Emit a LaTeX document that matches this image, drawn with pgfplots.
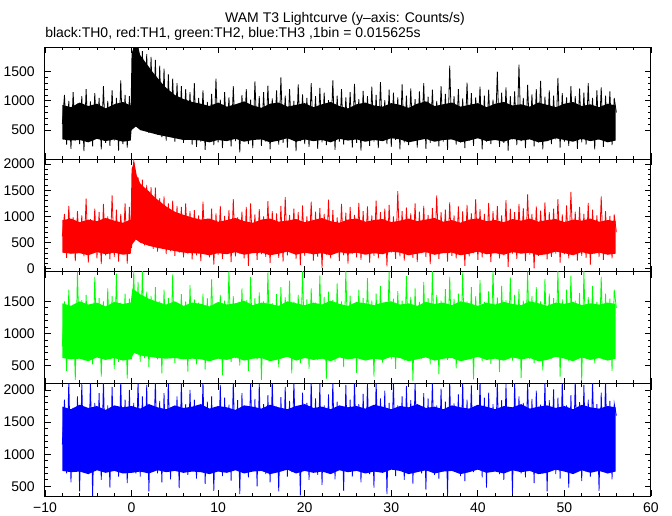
\documentclass[border=0pt]{standalone}
\usepackage{fontspec}
\setmainfont{Liberation Sans}
\usepackage{pgfplots}
\usepackage{pgfplotstable}
\pgfplotsset{compat=1.18}

\definecolor{th0}{RGB}{0,0,0}
\definecolor{th1}{RGB}{255,0,0}
\definecolor{th2}{RGB}{0,255,0}
\definecolor{th3}{RGB}{0,0,255}

% t = time (s), a..d = counts/s for TH0..TH3 (low/high excursions)
\pgfplotstableread{
t a b c d
-8 600 620 800 1150
-7.75 1100 1050 1500 1850
-7.5 250 210 420 700
-7.25 1000 1200 1680 2150
-7 180 280 610 560
-6.75 1150 980 1450 1720
-6.5 320 150 280 810
-6.25 950 1100 1960 1900
-6 260 300 650 420
-5.75 1080 1020 1520 2110
-5.5 140 240 580 760
-5.25 1200 1340 1600 1680
-5 300 120 700 690
-4.75 990 950 1420 2150
-4.5 220 310 520 350
-4.25 1130 1150 1880 1800
-4 350 200 640 820
-3.75 1050 1080 1550 1950
-3.5 170 90 330 600
-3.25 1250 1240 1500 2150
-3 280 260 680 740
-2.75 1000 1000 1700 1760
-2.5 230 180 600 480
-2.25 1180 1400 1580 2050
-2 320 230 450 790
-1.75 1050 1130 1930 1700
-1.5 150 140 560 650
-1.25 1350 1050 1480 2150
-1 260 290 710 720
-0.75 1100 1250 1620 1850
-0.5 200 100 300 550
-0.25 1080 1180 1540 2000
0 500 400 600 760
0.25 1950 2100 1980 1800
0.5 820 700 700 700
0.75 1950 1750 1800 2150
1 500 600 560 650
1.25 1850 1700 1990 1900
1.5 600 450 620 780
1.75 1800 1600 1650 2080
2 450 520 480 420
2.25 1750 1560 1580 1760
2.5 550 380 650 810
2.75 1700 1550 1720 2150
3 420 330 600 700
3.25 1600 1350 1500 1830
3.5 380 400 380 560
3.75 1550 1380 1680 1950
4 320 280 690 790
4.25 1450 1250 1550 2150
4.5 400 340 620 610
4.75 1380 1300 1920 1700
5 300 250 540 830
5.25 1300 1200 1460 1900
5.5 350 310 700 470
5.75 1250 1180 1610 2120
6 280 220 620 750
6.25 1200 1250 1500 1780
6.5 330 290 410 680
6.75 1150 1100 1750 2000
7 250 180 660 800
7.25 1300 1120 1530 1850
7.5 210 260 520 620
7.75 1050 1020 1480 1760
8 300 150 610 780
8.25 1180 1280 1620 2150
8.5 160 310 440 540
8.75 980 960 1550 1820
9 340 220 680 700
9.25 1120 1150 1840 1900
9.5 240 80 590 430
9.75 1380 1060 1430 1700
10 290 270 650 820
10.25 1020 1200 1600 2080
10.5 190 190 350 660
10.75 1150 1010 1510 1880
11 360 300 700 750
11.25 1060 1120 1990 1770
11.5 220 130 560 590
11.75 1250 1330 1580 2150
12 310 240 620 800
12.25 940 980 1460 1840
12.5 120 290 500 380
12.75 1100 1090 1700 1950
13 330 200 660 720
13.25 1200 1180 1520 1690
13.5 260 60 420 640
13.75 1020 1250 1880 2150
14 190 320 690 810
14.25 1330 1040 1550 1860
14.5 350 170 600 500
14.75 1080 1140 1640 2100
15 230 280 280 770
15.25 1150 1000 1500 1780
15.5 300 230 650 690
15.75 1260 1290 1950 1920
16 170 110 570 560
16.25 1040 1100 1470 2150
16.5 320 300 680 830
16.75 1180 1060 1610 1740
17 250 210 480 420
17.25 1400 1200 1720 1890
17.5 280 140 630 760
17.75 1090 1370 1560 2050
18 200 260 700 650
18.25 1200 1030 1820 1830
18.5 360 320 380 720
18.75 1000 1150 1490 2150
19 140 190 610 800
19.25 1280 1080 1600 1720
19.5 310 70 540 360
19.75 1110 1210 1990 1960
20 260 250 660 780
20.25 1050 1000 1530 1800
20.5 210 300 450 600
20.75 1300 1280 1700 2150
21 340 160 690 740
21.25 1080 1090 1480 1870
21.5 180 230 590 680
21.75 1220 1160 1900 2100
22 290 20 620 520
22.25 1140 1050 1570 1760
22.5 240 270 300 810
22.75 1010 1320 1650 1930
23 330 200 670 700
23.25 1350 1120 1520 2150
23.5 160 310 560 610
23.75 1090 980 1780 1820
24 300 150 640 790
24.25 1200 1240 1500 1690
24.5 250 260 480 430
24.75 1060 1070 1970 2080
25 370 100 700 760
25.25 1150 1180 1590 1850
25.5 200 290 610 650
25.75 1290 1030 1460 2150
26 280 220 390 820
26.25 1030 1260 1680 1780
26.5 150 170 660 560
26.75 1170 1100 1550 1940
27 320 300 590 720
27.25 1080 1190 1860 2110
27.5 230 120 680 690
27.75 1240 1020 1510 1720
28 300 250 330 480
28.25 1100 1300 1620 2150
28.5 190 200 630 800
28.75 1320 1080 1740 1870
29 350 280 550 740
29.25 1010 1150 1480 1990
29.5 260 50 700 380
29.75 1190 1220 1960 1800
30 210 310 600 780
30.25 1140 1000 1540 2150
30.5 330 190 450 660
30.75 1060 1480 1660 1760
31 170 240 680 820
31.25 1280 1100 1510 1900
31.5 290 160 580 600
31.75 1090 1170 1890 2060
32 240 290 640 720
32.25 1210 1060 1570 1840
32.5 310 210 260 540
32.75 1030 1250 1700 2150
33 200 130 660 790
33.25 1160 1090 1490 1730
33.5 350 300 610 700
33.75 1300 1200 1800 1950
34 180 230 690 450
34.25 1070 1030 1550 1870
34.5 280 90 520 800
34.75 1190 1160 1970 2150
35 330 270 640 680
35.25 1000 1400 1600 1760
35.5 220 190 370 620
35.75 1250 1080 1510 2020
36 300 310 670 770
36.25 1120 1130 1690 1820
36.5 160 140 590 350
36.75 1600 1270 1880 2150
37 340 250 700 740
37.25 1080 1020 1540 1790
37.5 250 200 460 810
37.75 1200 1190 1620 1930
38 290 290 650 660
38.25 1040 1100 1950 2150
38.5 190 60 610 580
38.75 1310 1220 1500 1850
39 320 240 680 780
39.25 1130 1060 1720 2070
39.5 230 300 290 720
39.75 1060 1330 1580 1750
40 360 170 640 800
40.25 1240 1140 1830 2150
40.5 170 220 570 640
40.75 1090 1050 1490 1880
41 300 280 690 480
41.25 1190 1260 1660 1960
41.5 260 130 530 750
41.75 1020 1100 1990 1780
42 330 310 660 820
42.25 1500 1200 1560 2150
42.5 210 200 400 690
42.75 1140 1020 1740 1840
43 280 260 620 600
43.25 1230 1310 1520 2090
43.5 150 40 700 770
43.75 1080 1150 1870 1730
44 340 290 580 380
44.25 1160 1080 1600 2150
44.5 240 190 650 810
44.75 1620 1240 1690 1900
45 310 300 310 700
45.25 1050 1160 1510 1800
45.5 190 150 680 640
45.75 1270 1420 1960 2150
46 350 270 600 760
46.25 1110 1050 1580 1860
46.5 220 10 540 550
46.75 1200 1190 1720 1990
47 290 250 690 790
47.25 1340 1110 1500 1770
47.5 170 310 430 700
47.75 1070 1270 1850 2150
48 320 180 650 420
48.25 1180 1080 1620 1840
48.5 260 230 610 810
48.75 1090 1150 1550 2010
49 340 290 700 690
49.25 1390 1330 1990 1880
49.5 200 120 330 620
49.75 1130 1040 1530 2150
50 300 280 660 780
50.25 1060 1210 1680 1760
50.5 230 200 570 480
50.75 1250 1470 1900 1920
51 360 300 640 740
51.25 1080 1090 1510 2150
51.5 180 160 690 800
51.75 1210 1180 1630 1810
52 290 250 260 580
52.25 1140 1050 1970 2080
52.5 250 210 610 730
52.75 1300 1260 1570 1850
53 320 80 680 650
53.25 1050 1130 1740 2150
53.5 170 290 540 810
53.75 1180 1020 1490 1780
54 330 230 650 430
54.25 1230 1380 1880 1960
54.5 210 170 600 760
54.75 1090 1100 1620 2150
55 300 270 700 700
55.25 1160 1010 1540 1830
55.5 240 200 420 610
55.75 1050 1040 1680 1790
56 800 700 1400 1600
}\lc

\pgfplotsset{
  lcpanel/.style={
    scale only axis,
    width=454.5pt, height=84.19pt,
    anchor=north west,
    xmin=-10, xmax=60,
    xtick={-10,0,...,60},
    minor x tick num=4,
    minor y tick num=4,
    tick align=inside,
    axis line style={line width=0.75pt},
    every tick/.style={black, line width=0.6pt},
    major tick length=4.5pt,
    minor tick length=2.6pt,
    /pgf/number format/assume math mode=true,
    /pgf/number format/1000 sep={},
    ticklabel style={font=\fontsize{10.5}{12}\selectfont, inner sep=0pt},
    yticklabel style={xshift=-7.5pt},
    xticklabel style={yshift=-5pt},
    xticklabel=\empty,
  },
  lcline/.style={line width=0.6pt, no marks, sharp plot},
  lccore/.style={draw=none, no marks, sharp plot},
}

\begin{document}
\begin{tikzpicture}
\path (0pt,0pt) rectangle (504pt,-386.25pt);

\node[anchor=base, inner sep=0pt, font=\fontsize{10.5}{12}\selectfont] at (258.75pt,-16.5pt)
  {WAM T3 Lightcurve (y–axis: Counts/s)};
\node[anchor=base west, inner sep=0pt, font=\fontsize{10.5}{12}\selectfont] at (33.75pt,-28pt)
  {black:TH0, red:TH1, green:TH2, blue:TH3 ,1bin = 0.015625s};

% ---- TH0 ----
\begin{axis}[lcpanel, at={(33.75pt,-35.25pt)},
  ymin=0, ymax=1920, ytick={500,1000,1500}]
% solid body of the band
\addplot[lccore, fill=th0] coordinates {
  (-8,930) (-7,890) (-6,970) (-5,910) (-4,950) (-3,870) (-2,940) (-1,980)
  (-0.1,920) (0,1800) (0.3,1950) (0.7,1950) (1,1780) (1.5,1680) (2,1580)
  (2.5,1480) (3,1390) (3.5,1300) (4,1220) (5,1100) (6,1030) (7,980) (8,950)
  (9,910) (10,970) (11,900) (12,940) (13,990) (14,920) (15,880) (16,950)
  (17,970) (18,900) (19,930) (20,960) (21,890) (22,940) (23,980) (24,910)
  (25,870) (26,940) (27,970) (28,920) (29,900) (30,960) (31,930) (32,880)
  (33,950) (34,990) (35,910) (36,940) (37,970) (38,900) (39,930) (40,960)
  (41,890) (42,950) (43,980) (44,920) (45,940) (46,900) (47,970) (48,930)
  (49,890) (50,950) (51,980) (52,910) (53,940) (54,890) (55,950) (55.9,920)
  (55.9,320) (55,290) (54,340) (53,310) (52,350) (51,300) (50,330) (49,360)
  (48,310) (47,290) (46,340) (45,320) (44,350) (43,300) (42,330) (41,310)
  (40,360) (39,320) (38,290) (37,340) (36,330) (35,300) (34,350) (33,320)
  (32,290) (31,340) (30,360) (29,310) (28,330) (27,300) (26,340) (25,320)
  (24,350) (23,290) (22,330) (21,310) (20,340) (19,300) (18,360) (17,320)
  (16,290) (15,340) (14,330) (13,300) (12,350) (11,310) (10,330) (9,290)
  (8,320) (7,330) (6,330) (5,360) (4,390) (3,420) (2,460) (1,500) (0.5,560)
  (0,500) (-0.1,320) (-1,300) (-2,340) (-3,310) (-4,350) (-5,290) (-6,330)
  (-7,320) (-8,340)};
\addplot[lcline, color=th0] table[x=t, y=a] {\lc};
\end{axis}

% ---- TH1 ----
\begin{axis}[lcpanel, at={(33.75pt,-119.44pt)},
  ymin=-50, ymax=2090, ytick={0,500,1000,1500,2000}]
\addplot[lccore, fill=th1] coordinates {
  (-8,930) (-7,960) (-6,890) (-5,940) (-4,910) (-3,970) (-2,920) (-1,880)
  (-0.1,940) (0,1900) (0.3,2050) (0.6,1780) (1,1630) (1.5,1550) (2,1480)
  (2.5,1390) (3,1320) (4,1190) (5,1090) (6,1030) (7,980) (8,940) (9,960)
  (10,900) (11,930) (12,970) (13,910) (14,880) (15,940) (16,960) (17,900)
  (18,920) (19,950) (20,890) (21,930) (22,970) (23,910) (24,880) (25,940)
  (26,960) (27,900) (28,930) (29,950) (30,890) (31,920) (32,960) (33,910)
  (34,940) (35,970) (36,900) (37,930) (38,880) (39,940) (40,960) (41,910)
  (42,930) (43,890) (44,950) (45,920) (46,960) (47,900) (48,930) (49,950)
  (50,890) (51,940) (52,920) (53,960) (54,900) (55,930) (55.9,910)
  (55.9,290) (55,270) (54,310) (53,280) (52,320) (51,260) (50,300) (49,330)
  (48,280) (47,260) (46,310) (45,290) (44,320) (43,270) (42,300) (41,280)
  (40,330) (39,290) (38,260) (37,310) (36,300) (35,270) (34,320) (33,290)
  (32,260) (31,310) (30,330) (29,280) (28,300) (27,270) (26,310) (25,290)
  (24,320) (23,260) (22,300) (21,280) (20,310) (19,270) (18,330) (17,290)
  (16,260) (15,310) (14,300) (13,270) (12,320) (11,280) (10,300) (9,260)
  (8,290) (7,300) (6,310) (5,340) (4,370) (3,400) (2,440) (1,500) (0.5,560)
  (0,450) (-0.1,290) (-1,270) (-2,310) (-3,280) (-4,320) (-5,260) (-6,300)
  (-7,290) (-8,310)};
\addplot[lcline, color=th1] table[x=t, y=b] {\lc};
\end{axis}

% ---- TH2 ----
\begin{axis}[lcpanel, at={(33.75pt,-203.63pt)},
  ymin=220, ymax=1963, ytick={500,1000,1500}]
\addplot[lccore, fill=th2] coordinates {
  (-8,1470) (-7,1430) (-6,1500) (-5,1450) (-4,1480) (-3,1420) (-2,1490)
  (-1,1460) (-0.1,1480) (0.1,1700) (0.5,1660) (1,1610) (2,1540) (3,1490)
  (4,1450) (5,1500) (6,1430) (7,1480) (8,1460) (9,1420) (10,1490) (11,1450)
  (12,1470) (13,1510) (14,1440) (15,1480) (16,1460) (17,1430) (18,1500)
  (19,1470) (20,1440) (21,1480) (22,1450) (23,1510) (24,1460) (25,1430)
  (26,1490) (27,1470) (28,1440) (29,1480) (30,1500) (31,1450) (32,1470)
  (33,1430) (34,1490) (35,1460) (36,1480) (37,1440) (38,1500) (39,1470)
  (40,1430) (41,1480) (42,1450) (43,1490) (44,1460) (45,1440) (46,1500)
  (47,1470) (48,1430) (49,1480) (50,1460) (51,1490) (52,1440) (53,1470)
  (54,1450) (55,1480) (55.9,1460)
  (55.9,610) (55,580) (54,620) (53,590) (52,630) (51,570) (50,610) (49,640)
  (48,590) (47,570) (46,620) (45,600) (44,630) (43,580) (42,610) (41,590)
  (40,640) (39,600) (38,570) (37,620) (36,610) (35,580) (34,630) (33,600)
  (32,570) (31,620) (30,640) (29,590) (28,610) (27,580) (26,620) (25,600)
  (24,630) (23,570) (22,610) (21,590) (20,620) (19,580) (18,640) (17,600)
  (16,570) (15,620) (14,610) (13,580) (12,630) (11,590) (10,610) (9,570)
  (8,600) (7,610) (6,600) (5,620) (4,610) (3,620) (2,640) (1,660) (0.3,700)
  (-0.1,600) (-1,580) (-2,620) (-3,590) (-4,630) (-5,570) (-6,610) (-7,600)
  (-8,620)};
\addplot[lcline, color=th2] table[x=t, y=c] {\lc};
\end{axis}

% ---- TH3 ----
\begin{axis}[lcpanel, at={(33.75pt,-287.81pt)},
  ymin=349, ymax=2097, ytick={500,1000,1500,2000},
  xticklabels={−10,0,10,20,30,40,50,60}]
\addplot[lccore, fill=th3] coordinates {
  (-8,1740) (-7,1700) (-6,1770) (-5,1720) (-4,1750) (-3,1690) (-2,1760)
  (-1,1730) (0,1750) (1,1710) (2,1780) (3,1730) (4,1700) (5,1760) (6,1720)
  (7,1740) (8,1780) (9,1710) (10,1750) (11,1730) (12,1690) (13,1760)
  (14,1740) (15,1710) (16,1770) (17,1730) (18,1700) (19,1750) (20,1780)
  (21,1720) (22,1740) (23,1700) (24,1760) (25,1730) (26,1750) (27,1710)
  (28,1770) (29,1740) (30,1700) (31,1750) (32,1730) (33,1780) (34,1720)
  (35,1740) (36,1700) (37,1760) (38,1730) (39,1710) (40,1770) (41,1740)
  (42,1700) (43,1750) (44,1730) (45,1780) (46,1710) (47,1740) (48,1760)
  (49,1720) (50,1750) (51,1700) (52,1770) (53,1730) (54,1710) (55,1750)
  (55.9,1730)
  (55.9,730) (55,700) (54,740) (53,710) (52,750) (51,690) (50,730) (49,760)
  (48,710) (47,690) (46,740) (45,720) (44,750) (43,700) (42,730) (41,710)
  (40,760) (39,720) (38,690) (37,740) (36,730) (35,700) (34,750) (33,720)
  (32,690) (31,740) (30,760) (29,710) (28,730) (27,700) (26,740) (25,720)
  (24,750) (23,690) (22,730) (21,710) (20,740) (19,700) (18,760) (17,720)
  (16,690) (15,740) (14,730) (13,700) (12,750) (11,710) (10,730) (9,690)
  (8,720) (7,730) (6,710) (5,740) (4,720) (3,750) (2,700) (1,730) (0,710)
  (-1,700) (-2,740) (-3,710) (-4,750) (-5,690) (-6,730) (-7,720) (-8,740)};
\addplot[lcline, color=th3] table[x=t, y=d] {\lc};
\end{axis}
\end{tikzpicture}
\end{document}
